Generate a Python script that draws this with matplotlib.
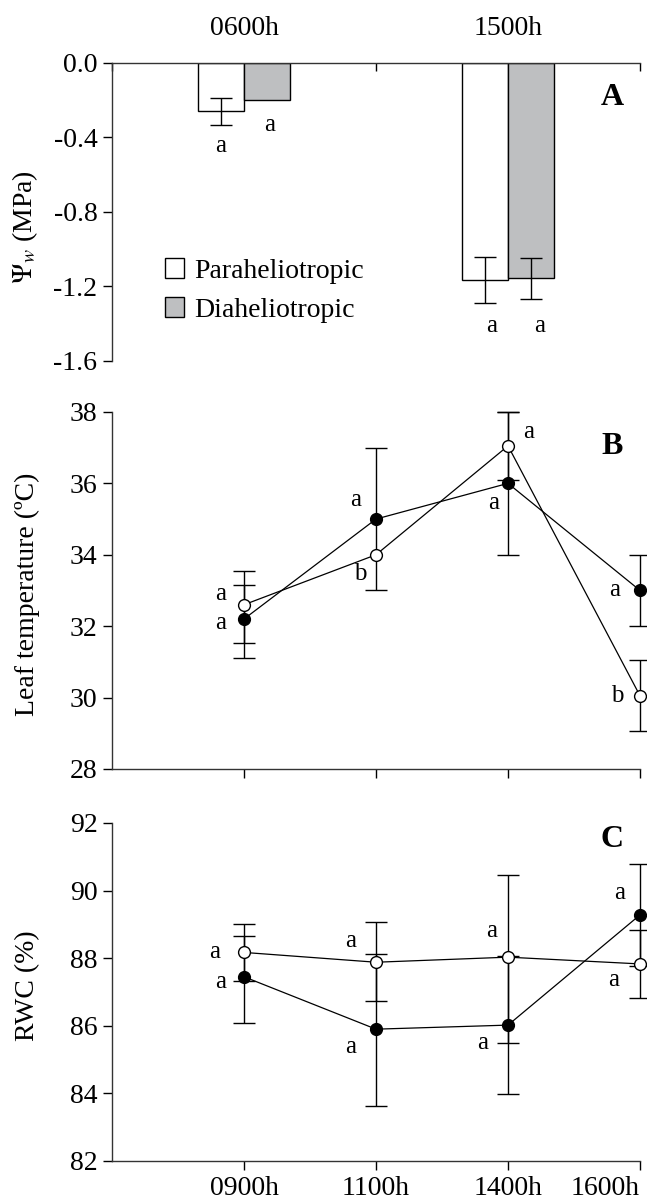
import numpy as np
import matplotlib
matplotlib.use('Agg')
import matplotlib.pyplot as plt
from matplotlib.patches import Patch

plt.rcParams['font.family'] = ['Liberation Serif', 'DejaVu Serif']
plt.rcParams['mathtext.fontset'] = 'stix'

# --- dados ---
a_times = ['0600h', '1500h']
a_para = [-0.26, -1.165]
a_para_err = [0.072, 0.125]
a_dia = [-0.196, -1.157]
a_dia_err = [np.nan, 0.108]
a_para_let = ['a', 'a']
a_dia_let = ['a', 'a']

times = ['0900h', '1100h', '1400h', '1600h']

temp_para = [32.6, 34.0, 37.05, 30.05]
temp_para_lo = [1.07, np.nan, 0.95, 1.0]
temp_para_hi = [0.95, np.nan, 0.95, 1.0]
temp_dia = [32.2, 35.0, 36.0, 33.0]
temp_dia_lo = [1.08, 2.0, 2.0, 1.0]
temp_dia_hi = [0.94, 2.0, 2.0, 1.0]
temp_para_let = ['a', 'b', 'a', 'b']
temp_dia_let = ['a', 'a', 'a', 'a']

rwc_para = [88.17, 87.88, 88.03, 87.83]
rwc_para_lo = [0.85, 1.14, 2.55, 1.0]
rwc_para_hi = [0.85, 1.18, 2.42, 1.0]
rwc_dia = [87.45, 85.9, 86.02, 89.28]
rwc_dia_lo = [1.36, 2.27, 2.05, 1.5]
rwc_dia_hi = [1.22, 2.23, 2.05, 1.5]
rwc_para_let = ['a', 'a', 'a', 'a']
rwc_dia_let = ['a', 'a', 'a', 'a']

FS = 20
LFS = 18
gray = '#bebfc1'

fig = plt.figure(figsize=(6.47, 12), dpi=100)
axA = fig.add_axes([0.1731, 0.6992, 0.8161, 0.2483])
axB = fig.add_axes([0.1731, 0.3592, 0.8161, 0.2975])
axC = fig.add_axes([0.1731, 0.0325, 0.8161, 0.2817])

# ---------- painel A ----------
w = 0.174
xa = np.arange(len(a_times)) + 0.5
axA.bar(xa - w/2, a_para, w, color='white', edgecolor='black', linewidth=1)
axA.bar(xa + w/2, a_dia, w, color=gray, edgecolor='black', linewidth=1)
axA.errorbar(xa - w/2, a_para, yerr=a_para_err, fmt='none', ecolor='black',
             elinewidth=1, capsize=8, capthick=1)
axA.errorbar(xa + w/2, a_dia, yerr=a_dia_err, fmt='none', ecolor='black',
             elinewidth=1, capsize=8, capthick=1)

offA_para = [(0, -25), (5, -33)]
offA_dia = [(2, -18), (6.5, -34)]
for i in range(len(a_times)):
    axA.annotate(a_para_let[i], (xa[i] - w/2, a_para[i]), xytext=offA_para[i],
                 textcoords='offset points', ha='center', va='center', fontsize=LFS)
    axA.annotate(a_dia_let[i], (xa[i] + w/2, a_dia[i]), xytext=offA_dia[i],
                 textcoords='offset points', ha='center', va='center', fontsize=LFS)

axA.set_xlim(0, 2)
axA.set_ylim(-1.6, 0)
axA.set_yticks([0.0, -0.4, -0.8, -1.2, -1.6])
axA.set_yticklabels(['0.0', '-0.4', '-0.8', '-1.2', '-1.6'])
axA.xaxis.tick_top()
axA.set_xticks([0, 1, 2])
axA.set_xticklabels([])
axA.set_xticks(xa, minor=True)
axA.set_xticklabels(a_times, minor=True)
axA.tick_params(axis='x', which='major', direction='in', length=6, width=1)
axA.tick_params(axis='x', which='minor', length=0, pad=16, labelsize=FS)
axA.tick_params(axis='y', direction='out', length=6.5, width=1, pad=4, labelsize=FS)
axA.spines['bottom'].set_visible(False)
axA.spines['right'].set_visible(False)
axA.set_ylabel(r'$\Psi_{w}$ (MPa)', fontsize=FS)
axA.yaxis.set_label_coords(-0.136, 0.45)
axA.text(0.947, 0.883, 'A', transform=axA.transAxes, ha='center', va='center',
         fontsize=23, fontweight='bold')

hand = [Patch(facecolor='white', edgecolor='black', linewidth=1, label='Paraheliotropic'),
        Patch(facecolor=gray, edgecolor='black', linewidth=1, label='Diaheliotropic')]
axA.legend(handles=hand, loc='upper left', bbox_to_anchor=(0.1, 0.345), frameon=False,
           fontsize=FS, handlelength=0.7, handleheight=0.7, handletextpad=0.35,
           borderpad=0, borderaxespad=0, labelspacing=0.5)


# ---------- paineis B e C ----------
def painel(ax, para, p_lo, p_hi, dia, d_lo, d_hi, p_let, d_let, off_p, off_d):
    x = np.arange(1, len(times) + 1)
    eb1 = ax.errorbar(x, dia, yerr=[d_lo, d_hi], fmt='-o', color='black', mfc='black',
                      mec='black', ms=8.5, lw=0.9, elinewidth=1, capsize=8, capthick=1,
                      zorder=3)
    eb2 = ax.errorbar(x, para, yerr=[p_lo, p_hi], fmt='-o', color='black', mfc='white',
                      mec='black', ms=8.5, mew=1, lw=0.9, elinewidth=1, capsize=8,
                      capthick=1, zorder=4)
    for eb in (eb1, eb2):
        for art in eb.get_children():
            art.set_clip_on(False)
    for i in range(len(times)):
        ax.annotate(p_let[i], (x[i], para[i]), xytext=off_p[i], textcoords='offset points',
                    ha='center', va='center', fontsize=LFS)
        ax.annotate(d_let[i], (x[i], dia[i]), xytext=off_d[i], textcoords='offset points',
                    ha='center', va='center', fontsize=LFS)
    ax.set_xlim(0, 4)
    ax.set_xticks(x)
    ax.spines['top'].set_visible(False)
    ax.spines['right'].set_visible(False)
    ax.tick_params(axis='both', direction='out', length=6.5, width=1, labelsize=FS)
    ax.tick_params(axis='y', pad=4)


painel(axB, temp_para, temp_para_lo, temp_para_hi, temp_dia, temp_dia_lo, temp_dia_hi,
       temp_para_let, temp_dia_let,
       [(-17, 8), (-11.5, -13.5), (14.5, 10), (-16, 0)],
       [(-17, -3), (-15, 13.5), (-10.5, -14.5), (-18, 0)])
axB.set_ylim(28, 38)
axB.set_yticks([28, 30, 32, 34, 36, 38])
axB.set_xticklabels([])
axB.set_ylabel('Leaf temperature (ºC)', fontsize=FS)
axB.yaxis.set_label_coords(-0.136, 0.49)
axB.text(0.947, 0.902, 'B', transform=axB.transAxes, ha='center', va='center',
         fontsize=23, fontweight='bold')

painel(axC, rwc_para, rwc_para_lo, rwc_para_hi, rwc_dia, rwc_dia_lo, rwc_dia_hi,
       rwc_para_let, rwc_dia_let,
       [(-21, 0), (-18, 15.5), (-12, 19), (-19, -11.5)],
       [(-17, -3.5), (-18, -13), (-18, -12.7), (-15, 16)])
axC.set_ylim(82, 92)
axC.set_yticks([82, 84, 86, 88, 90, 92])
axC.set_xticklabels(times)
axC.tick_params(axis='x', pad=4)
last = axC.get_xticklabels()[-1]
last.set_horizontalalignment('right')
last.set_x(4.08)
axC.set_ylabel('RWC (%)', fontsize=FS)
axC.yaxis.set_label_coords(-0.136, 0.518)
axC.text(0.947, 0.95, 'C', transform=axC.transAxes, ha='center', va='center',
         fontsize=23, fontweight='bold')

for ax in (axA, axB, axC):
    for s in ax.spines.values():
        s.set_linewidth(1)
        s.set_color('#333333')

fig.savefig('out.png', dpi=100)
